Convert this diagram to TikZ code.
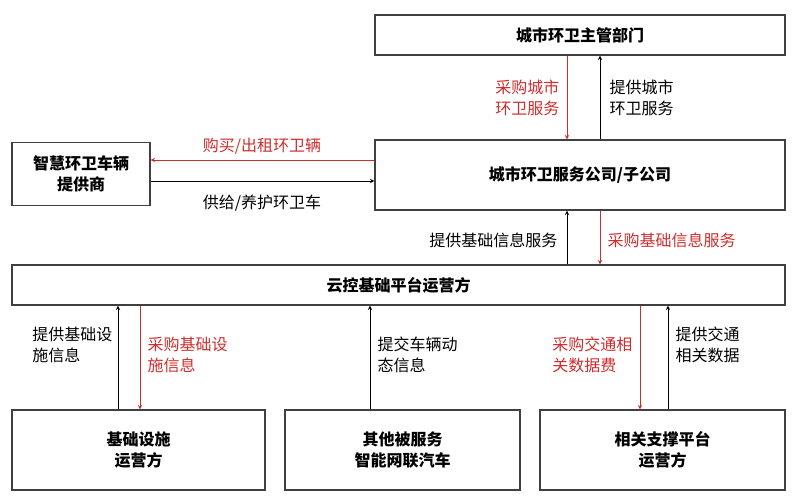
\documentclass[tikz,border=0pt]{standalone}
\usepackage{fontspec}
\setmainfont{Noto Sans CJK SC}
\usetikzlibrary{positioning}
\definecolor{myred}{RGB}{205,45,45}
\begin{document}
\begin{tikzpicture}[x=1pt, y=-1pt]
\tikzset{box/.style={draw=black!75, line width=1.1pt, inner sep=0pt, font=\bfseries\fontsize{16}{21}\selectfont, align=center}}
\tikzset{lbl/.style={font=\fontsize{16}{21}\selectfont, align=left}}
\tikzset{up/.style={->, >=stealth, line width=1pt, black}}
\tikzset{down/.style={->, >=stealth, line width=1pt, myred}}
\useasboundingbox (0,0) rectangle (800,501);
\node[box, minimum width=410pt, minimum height=40pt] (dept) at (580,35) {城市环卫主管部门};
\node[box, minimum width=410pt, minimum height=70pt] (comp) at (580,175) {城市环卫服务公司/子公司};
\node[box, minimum width=138pt, minimum height=63pt] (veh) at (81,174) {智慧环卫车辆\\提供商};
\node[box, minimum width=773pt, minimum height=40pt] (plat) at (398.5,285) {云控基础平台运营方};
\node[box, minimum width=253pt, minimum height=80pt] (infra) at (138.5,450) {基础设施\\运营方};
\node[box, minimum width=235pt, minimum height=80pt] (car) at (402.5,450) {其他被服务\\智能网联汽车};
\node[box, minimum width=245pt, minimum height=80pt] (supp) at (662.5,450) {相关支撑平台\\运营方};

\draw[down] (dept.south -| 567,0) -- (comp.north -| 567,0);
\draw[up] (comp.north -| 600,0) -- (dept.south -| 600,0);
\node[lbl, myred, left=4pt] at (567,98) {采购城市\\环卫服务};
\node[lbl, right=6pt] at (600,98) {提供城市\\环卫服务};

\draw[down] (comp.west |- 0,160) -- (veh.east |- 0,160);
\draw[up] (veh.east |- 0,181) -- (comp.west |- 0,181);
\node[lbl, myred] at (262,146) {购买/出租环卫辆};
\node[lbl] at (262,203) {供给/养护环卫车};

\draw[up] (plat.north -| 567,0) -- (comp.south -| 567,0);
\draw[down] (comp.south -| 600,0) -- (plat.north -| 600,0);
\node[lbl, left=6pt] at (567,240) {提供基础信息服务};
\node[lbl, myred, right=4pt] at (600,240) {采购基础信息服务};

\draw[up] (infra.north -| 118,0) -- (plat.south -| 118,0);
\draw[down] (plat.south -| 140,0) -- (infra.north -| 140,0);
\node[lbl, left=2pt] at (118,345) {提供基础设\\施信息};
\node[lbl, myred, right=4pt] at (140,355) {采购基础设\\施信息};

\draw[up] (car.north -| 370,0) -- (plat.south -| 370,0);
\node[lbl, right=4pt] at (370,355) {提交车辆动\\态信息};

\draw[down] (plat.south -| 640,0) -- (supp.north -| 640,0);
\draw[up] (supp.north -| 668,0) -- (plat.south -| 668,0);
\node[lbl, myred, left=4pt] at (640,355) {采购交通相\\关数据费};
\node[lbl, right=4pt] at (668,345) {提供交通\\相关数据};
\end{tikzpicture}
\end{document}
